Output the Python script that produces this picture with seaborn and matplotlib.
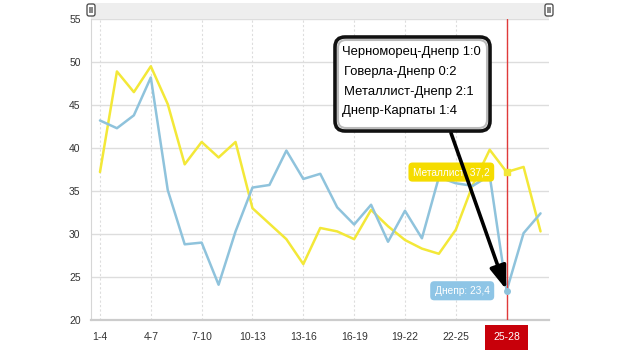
import matplotlib
matplotlib.use("Agg")
import matplotlib.pyplot as plt
from matplotlib.patches import FancyBboxPatch, Rectangle
import seaborn as sns
import pandas as pd

# ---- data ----
rounds = ["1-4", "2-5", "3-6", "4-7", "5-8", "6-9", "7-10", "8-11", "9-12",
          "10-13", "11-14", "12-15", "13-16", "14-17", "15-18", "16-19",
          "17-20", "18-21", "19-22", "20-23", "21-24", "22-25", "23-26",
          "24-27", "25-28", "26-29", "27-30"]
metalist = [37.2, 48.9, 46.5, 49.5, 45.1, 38.1, 40.7, 38.9, 40.7, 33.0,
            31.2, 29.4, 26.5, 30.7, 30.3, 29.4, 32.8, 30.9, 29.3, 28.3,
            27.7, 30.5, 35.7, 39.8, 37.2, 37.8, 30.3]
dnepr = [43.2, 42.3, 43.8, 48.2, 35.1, 28.8, 29.0, 24.1, 30.3, 35.4,
         35.7, 39.7, 36.4, 37.0, 33.1, 31.1, 33.4, 29.1, 32.7, 29.5,
         36.6, 35.9, 35.6, 36.8, 23.4, 30.1, 32.4]
series_names = ["Металлист", "Днепр"]
tick_every = 3
highlight_index = 24
matches = ["Черноморец-Днепр 1:0", "Говерла-Днепр 0:2",
           "Металлист-Днепр 2:1", "Днепр-Карпаты 1:4"]
y_ticks = [20, 25, 30, 35, 40, 45, 50, 55]

YELLOW = "#f3e838"
BLUE = "#8fc3dc"
RED = "#e03a3a"

df = pd.concat([
    pd.DataFrame({"idx": range(len(rounds)), "value": metalist, "team": series_names[0]}),
    pd.DataFrame({"idx": range(len(rounds)), "value": dnepr, "team": series_names[1]}),
])

sns.set_style("white")
plt.rcParams["font.family"] = ["Liberation Sans", "DejaVu Sans"]

W, H = 629, 350
fig = plt.figure(figsize=(W / 100, H / 100), dpi=100)
ax = fig.add_axes([91 / W, (H - 320) / H, (549 - 91) / W, (320 - 19) / H])

sns.lineplot(data=df, x="idx", y="value", hue="team",
             palette={series_names[0]: YELLOW, series_names[1]: BLUE},
             linewidth=1.8, legend=False, ax=ax, zorder=3)

ax.set_xlim(-0.53, len(rounds) - 0.5)
ax.set_ylim(y_ticks[0], y_ticks[-1])
ax.set_yticks(y_ticks)
xt = list(range(0, len(rounds), tick_every))
ax.set_xticks(xt)
ax.set_xticklabels([rounds[i] for i in xt])
ax.set_xlabel("")
ax.set_ylabel("")
ax.tick_params(axis="both", length=0, labelsize=7.5, labelcolor="#333333")
ax.tick_params(axis="y", pad=7.5)
ax.tick_params(axis="x", pad=9)

ax.grid(axis="y", color="#dddddd", linewidth=1, linestyle="-")
for i in xt:
    ax.axvline(i, color="#dddddd", linewidth=0.8, linestyle=(0, (2, 2)), zorder=0)
for s in ["top", "right"]:
    ax.spines[s].set_visible(False)
ax.spines["left"].set_color("#d6d6d6")
ax.spines["bottom"].set_color("#cccccc")
ax.spines["bottom"].set_linewidth(1.6)

# highlighted tick label
for lab in ax.get_xticklabels():
    if lab.get_text() == rounds[highlight_index]:
        lab.set_color("white")
        lab.set_bbox(dict(boxstyle="square,pad=0.75", fc="#c8000a", ec="none"))

# red crosshair
ax.axvline(highlight_index, color=RED, linewidth=1, zorder=4)

# markers at highlighted index
ax.plot([highlight_index], [metalist[highlight_index]], marker="s", ms=4,
        color=YELLOW, zorder=5)
ax.plot([highlight_index], [dnepr[highlight_index]], marker="o", ms=4,
        color=BLUE, zorder=5)

# tooltip labels
ax.annotate(f"{series_names[0]}: {metalist[highlight_index]:.1f}".replace(".", ","),
            xy=(highlight_index, metalist[highlight_index]), xytext=(-17, 0),
            textcoords="offset pixels", ha="right", va="center",
            fontsize=7.3, color="white", zorder=6,
            bbox=dict(boxstyle="round,pad=0.45,rounding_size=0.4", fc="#f5dc00", ec="none"))
ax.annotate(f"{series_names[1]}: {dnepr[highlight_index]:.1f}".replace(".", ","),
            xy=(highlight_index, dnepr[highlight_index]), xytext=(-17, 0),
            textcoords="offset pixels", ha="right", va="center",
            fontsize=7.3, color="white", zorder=6,
            bbox=dict(boxstyle="round,pad=0.45,rounding_size=0.4", fc="#8ec5e6", ec="none"))

# overlay in pixel coordinates
ov = fig.add_axes([0, 0, 1, 1], zorder=10)
ov.set_xlim(0, W)
ov.set_ylim(H, 0)
ov.axis("off")

# scrollbar
ov.add_patch(Rectangle((91, 3), 458, 16, fc="#eeeeee", ec="none"))
for hx in (86, 544):
    ov.add_patch(FancyBboxPatch((hx + 1, 4), 8, 12, boxstyle="round,pad=0,rounding_size=2",
                                fc="white", ec="#444444", lw=0.9))
    ov.add_patch(Rectangle((hx + 3, 7), 4, 6, fc="#888888", ec="none"))

# annotation box
ov.add_patch(FancyBboxPatch((335, 37), 155, 94, boxstyle="round,pad=0,rounding_size=10",
                            fc="white", ec="#111111", lw=2.6))
ov.add_patch(FancyBboxPatch((338, 40), 149, 88, boxstyle="round,pad=0,rounding_size=8",
                            fc="none", ec="#bbbbbb", lw=1.5))
for k, m in enumerate(matches):
    ov.text(342 + (2 if k in (1, 2) else 0), 52 + 19.8 * k, m, fontsize=9.4,
            color="black", ha="left", va="center")

# arrow from box to the point
ax.annotate("", xy=(highlight_index, dnepr[highlight_index]), xycoords="data",
            xytext=(451, 133), textcoords=ov.transData,
            arrowprops=dict(arrowstyle="-|>,head_length=1.4,head_width=0.5",
                            color="black", lw=2.6, shrinkA=0, shrinkB=1),
            zorder=8, annotation_clip=False)

fig.savefig("out.png", dpi=100)
